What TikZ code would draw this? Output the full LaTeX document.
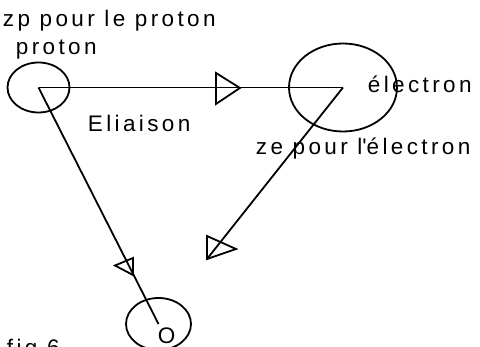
\documentclass[tikz,border=0pt]{standalone}
\usepackage{fontspec}
\setmainfont{Liberation Sans}[LetterSpace=15]
\usetikzlibrary{shapes.geometric}

\begin{document}
\begin{tikzpicture}[x=1pt,y=-1pt,line width=1.8pt,
  particle/.style={draw, ellipse, inner sep=0pt},
  lbl/.style={anchor=base west, inner sep=0pt, font=\fontsize{22.5}{27}\selectfont},
  tri/.style={line join=miter}]
  \useasboundingbox (0,0) rectangle (480,347);
  % particles
  \node[particle, minimum width=62pt, minimum height=50pt] (proton) at (38.5,87.5) {};
  \node[particle, minimum width=108pt, minimum height=88pt] (electron) at (343,87.5) {};
  \node[particle, minimum width=65pt, minimum height=52pt] (O) at (158.5,324) {};
  \coordinate (ehead) at (207,259);
  % connectors
  \draw (proton.center) -- (electron.center);
  \draw (electron.center) -- (ehead);
  \draw (proton.center) -- (O.center);
  \draw[tri] (216,73) -- (216,104) -- (240,88) -- cycle;
  \draw[tri] (ehead) -- (207,236) -- (236,249) -- cycle;
  \draw[tri] (115,265.5) -- (133,258) -- (133,275) -- cycle;
  % labels
  \node[lbl] (zp) at (2,27) {zp pour le proton};
  \node[lbl] (plab) at (15,55) {proton};
  \node[lbl] (elia) at (87,132) {Eliaison};
  \node[lbl] (elab) at (367,93) {électron};
  \node[lbl] (ze) at (255,155) {ze pour l\textquotesingle électron};
  \node[lbl] (olab) at (157,344) {O};
  \node[lbl] (fig) at (6,356) {fig 6};
\end{tikzpicture}
\end{document}
